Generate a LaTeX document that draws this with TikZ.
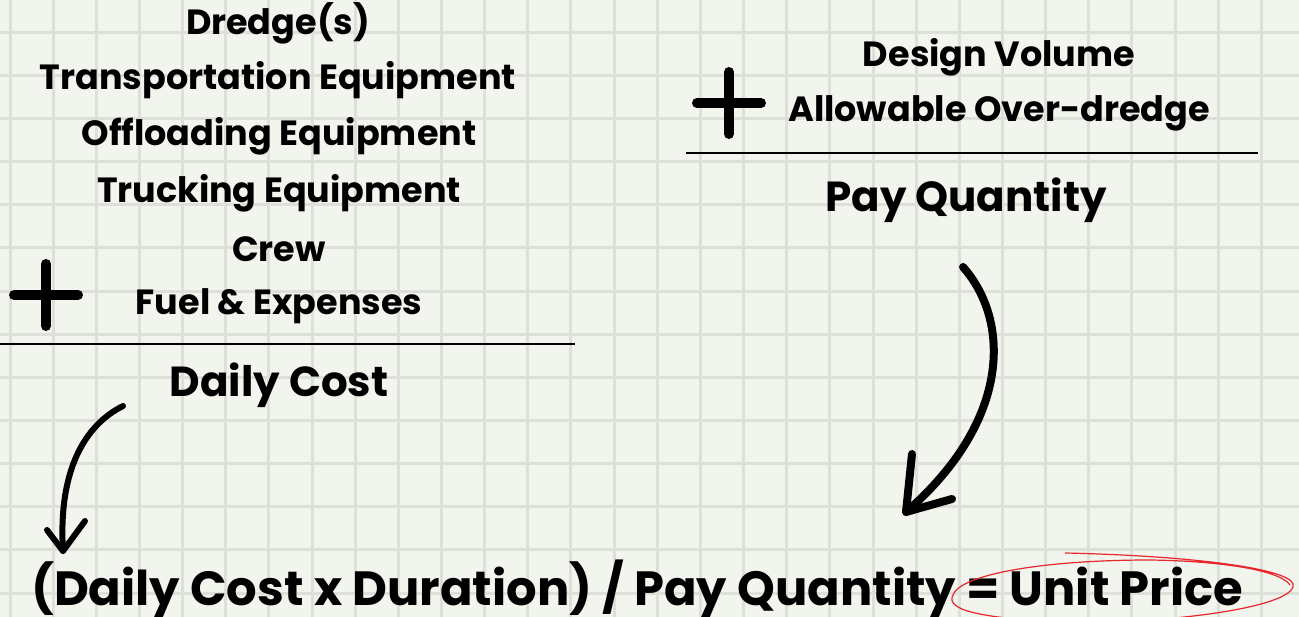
\documentclass[tikz,border=0pt]{standalone}
\usepackage{fontspec}
\setmainfont{Poppins}
\definecolor{bgc}{HTML}{F1F5EE}
\definecolor{gridc}{HTML}{DCE0D9}
\definecolor{redc}{HTML}{E8262B}
\begin{document}
\begin{tikzpicture}[x=1pt,y=-1pt,
  item/.style={inner sep=0pt, font=\fontsize{35}{40}\selectfont\bfseries},
  total/.style={inner sep=0pt, font=\fontsize{42}{48}\selectfont\bfseries},
  formula/.style={inner sep=0pt, font=\fontsize{48}{56}\selectfont\bfseries},
  plus/.style={line width=10pt, line cap=round},
  sumline/.style={line width=2.5pt},
  handarrow/.style={line width=6pt, line cap=round, line join=round}]
\useasboundingbox (0,0) rectangle (1299,617);
\fill[bgc] (0,0) rectangle (1299,617);
\foreach \i in {0,...,30} {\draw[gridc, line width=3pt] ({10+43.15*\i},0) -- ({10+43.15*\i},617);}
\foreach \i in {0,...,15} {\draw[gridc, line width=3pt] (0,{-11+43.15*\i}) -- (1299,{-11+43.15*\i});}
% left column
\node[item] (l1) at (278,23) {Dredge(s)};
\node[item] (l2) at (278,80) {Transportation Equipment};
\node[item] (l3) at (279,136) {Offloading Equipment};
\node[item] (l4) at (279,193) {Trucking Equipment};
\node[item] (l5) at (279,249) {Crew};
\node[item] (l6) at (279,306) {Fuel \& Expenses};
\draw[plus] (14,295) -- (78,295) (46,264) -- (46,326);
\draw[sumline] (0,344) -- (575,344);
\node[total] (dc) at (279,385) {Daily Cost};
% right column
\node[item] (r1) at (999,57) {Design Volume};
\node[item] (r2) at (999,113) {Allowable Over-dredge};
\draw[plus] (697,103) -- (761,103) (729,72) -- (729,134);
\draw[sumline] (686,153) -- (1258,153);
\node[total] (pq) at (966,200) {Pay Quantity};
% formula
\node[formula, anchor=west] (f) at (31,589) {(Daily Cost x Duration) / Pay Quantity = Unit Price};
% arrows
\coordinate (a1s) at (123,406);
\coordinate (a1e) at (63,551);
\draw[handarrow] (a1s) .. controls (85,425) and (58,470) .. (a1e);
\draw[handarrow] (47,530) -- (a1e) -- (85,521);
\coordinate (a2s) at (963,267);
\coordinate (a2e) at (906,512);
\draw[handarrow, line width=8pt] (a2s) .. controls (1010,320) and (1012,420) .. (a2e);
\draw[handarrow, line width=8pt] (912,454) -- (a2e) -- (952,499);
% red ellipse
\draw[redc, line width=1.2pt] (1065,553) .. controls (1200,556) and (1300,570) .. (1293,587)
  .. controls (1285,610) and (1150,625) .. (1060,622)
  .. controls (980,618) and (945,610) .. (953,595)
  .. controls (960,575) and (1040,560) .. (1150,560)
  .. controls (1220,561) and (1280,570) .. (1290,585);
\end{tikzpicture}
\end{document}
